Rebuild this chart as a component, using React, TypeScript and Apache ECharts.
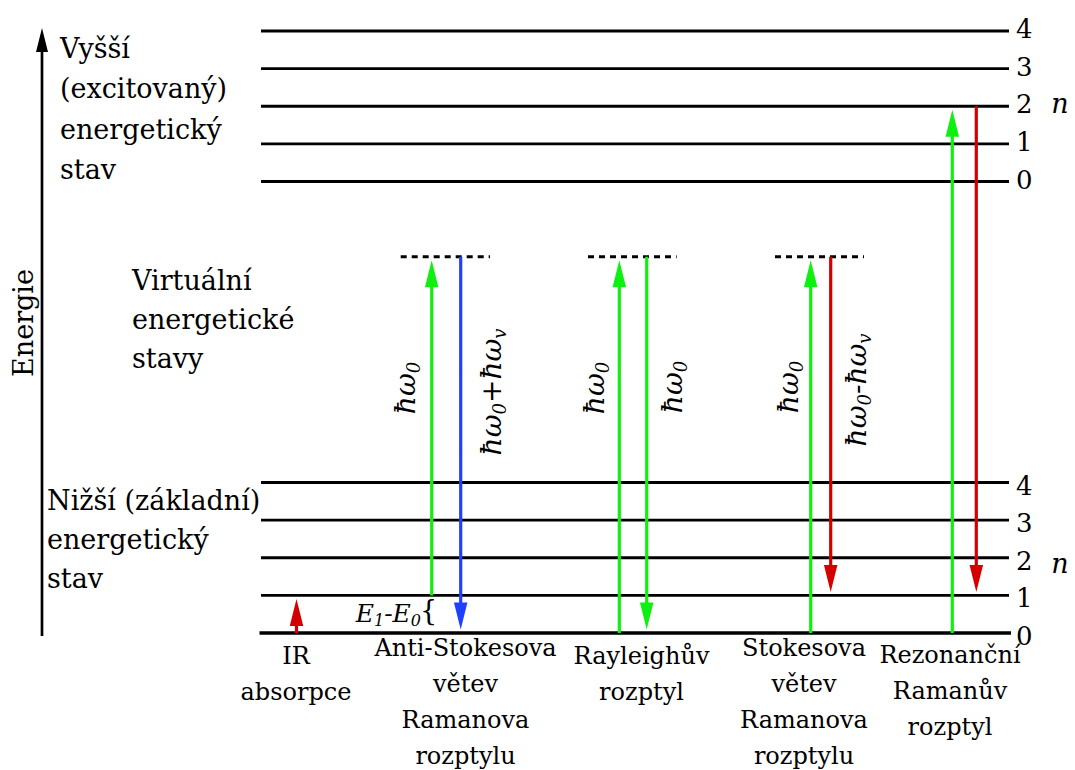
import React, { useEffect, useRef } from "react";
import * as echarts from "echarts";

const WIDTH = 1075;
const HEIGHT = 770;

// Energies are expressed in units of one vibrational level spacing.
const groundState = [0, 1, 2, 3, 4]; // n of the lower (ground) electronic state
const excitedState = [0, 1, 2, 3, 4]; // n of the upper (excited) electronic state
const excitedOffset = 12; // energy of the excited state's n = 0 level
const virtualLevel = 10; // energy of the virtual states
const energyMax = 16;

const processLabels = [
  "IR\nabsorpce",
  "Anti-Stokesova\nvětev\nRamanova\nrozptylu",
  "Rayleighův\nrozptyl",
  "Stokesova\nvětev\nRamanova\nrozptylu",
  "Rezonanční\nRamanův\nrozptyl",
];

// Transitions: start energy, end energy and kind of photon
const transitionFrom = [0, 1, 10, 0, 10, 0, 10, 0, 14];
const transitionTo = [1, 10, 0, 10, 0, 10, 1, 14, 1];
const transitionKind = ["ir", "laser", "antiStokes", "laser", "laser", "laser", "stokes", "laser", "stokes"];

// Processes that go through a virtual level
const virtualProcesses = [1, 2, 3];

// Photon energy labels
const photonLabels = [
  "{h|ħω}{s|0}",
  "{h|ħω}{s|0}{h|+ħω}{s|v}",
  "{h|ħω}{s|0}",
  "{h|ħω}{s|0}",
  "{h|ħω}{s|0}",
  "{h|ħω}{s|0}{h|-ħω}{s|v}",
];

const stateLabels = [
  "Vyšší\n(excitovaný)\nenergetický\nstav",
  "Virtuální\nenergetické\nstavy",
  "Nižší (základní)\nenergetický\nstav",
];

// ---- layout (pixels) ----
const LEVEL_X0 = 261;
const LEVEL_X1 = 1009;
const NUMBER_X = 1016;
const N_X = 1060;
const transitionX = [296.5, 431.7, 460.7, 619.3, 646.7, 810.7, 830.7, 952.3, 976.3];
const virtualSpan = [
  [400.7, 490],
  [588, 676.7],
  [775, 864],
];
const processLabelX = [296, 465.5, 641.5, 804, 950];
const processLabelDy = [23, 15, 23, 15, 22];
const photonLabelPos = [
  [405, 388],
  [491, 392],
  [594, 388],
  [672, 387],
  [788, 387],
  [856, 390],
];
const stateLabelPos = [
  [60, 48, 40.5],
  [132, 280, 39],
  [47, 500, 39],
];

const FONT = '"DejaVu Serif", serif';
const COLORS: Record<string, string> = {
  ir: "#d40000",
  laser: "#10f010",
  antiStokes: "#2040ff",
  stokes: "#d40000",
};

const HEAD_W = 13.5;
const HEAD_L = 27;
const TIP_GAP = 3.5;

function formulaRich(size: number, sub: number, lh: number) {
  return {
    h: { fontFamily: FONT, fontStyle: "italic", fontSize: size, fill: "#000", lineHeight: lh },
    s: { fontFamily: FONT, fontStyle: "italic", fontSize: sub, fill: "#000", verticalAlign: "bottom" },
  };
}

function buildOption(): echarts.EChartsOption {
  const levelData = [
    ...groundState.map((n) => [n, n, 0]),
    ...excitedState.map((n) => [n + excitedOffset, n, 1]),
  ];
  const arrowData = transitionFrom.map((f, i) => [transitionX[i], f, transitionTo[i], i]);
  const virtualData = virtualProcesses.map((p, i) => [virtualSpan[i][0], virtualSpan[i][1], virtualLevel, p]);
  const processData = processLabels.map((_, i) => [processLabelX[i], 0, i]);

  const graphic: any[] = [
    // energy axis
    {
      type: "line",
      shape: { x1: 42, y1: 636, x2: 42, y2: 48 },
      style: { stroke: "#000", lineWidth: 2.7 },
    },
    {
      type: "polygon",
      shape: { points: [[36, 52], [48, 52], [42, 28]] },
      style: { fill: "#000" },
    },
    {
      type: "text",
      x: 23,
      y: 323,
      rotation: Math.PI / 2,
      style: { text: "Energie", font: `27px ${FONT}`, fill: "#000", align: "center", verticalAlign: "middle" },
    },
    ...stateLabels.map((t, i) => ({
      type: "text",
      x: stateLabelPos[i][0],
      y: stateLabelPos[i][1] - stateLabelPos[i][2] / 2,
      style: {
        text: t,
        font: `27px ${FONT}`,
        lineHeight: stateLabelPos[i][2],
        fill: "#000",
        align: "left",
        verticalAlign: "top",
      },
    })),
    ...photonLabels.map((t, i) => ({
      type: "text",
      x: photonLabelPos[i][0],
      y: photonLabelPos[i][1],
      rotation: Math.PI / 2,
      style: { text: t, rich: formulaRich(28, 18, 34), align: "center", verticalAlign: "middle" },
    })),
    {
      type: "text",
      x: 421,
      y: 613,
      style: {
        text: "{h|E}{s|1}{h|-E}{s|0}",
        rich: formulaRich(25, 16, 30),
        align: "right",
        verticalAlign: "middle",
      },
    },
    {
      type: "text",
      x: 420,
      y: 610,
      style: { text: "{", font: `27px ${FONT}`, fill: "#000", align: "left", verticalAlign: "middle" },
    },
  ];

  return {
    animation: false,
    backgroundColor: "#fff",
    grid: { left: 0, right: 0, top: 31, bottom: 137 },
    xAxis: { type: "value", min: 0, max: WIDTH, show: false },
    yAxis: { type: "value", min: 0, max: energyMax, show: false },
    graphic,
    series: [
      {
        type: "custom",
        name: "levels",
        coordinateSystem: "cartesian2d",
        clip: false,
        data: levelData,
        renderItem: (_params: any, api: any) => {
          const e = api.value(0);
          const n = api.value(1);
          const upper = api.value(2) === 1;
          const a = api.coord([LEVEL_X0, e]);
          const b = api.coord([LEVEL_X1, e]);
          const ground = e === 0;
          const dy = upper ? -2 : 3;
          const children: any[] = [
            {
              type: "line",
              shape: { x1: a[0] - (ground ? 1.5 : 0), y1: a[1], x2: b[0] + (ground ? 2 : 0), y2: b[1] },
              style: { stroke: "#000", lineWidth: ground ? 3.6 : 2.8 },
            },
            {
              type: "text",
              x: NUMBER_X,
              y: a[1] + dy,
              style: {
                text: String(n),
                font: `26px ${FONT}`,
                lineHeight: 22,
                fill: "#000",
                align: "left",
                verticalAlign: "middle",
              },
            },
          ];
          if (n === 2) {
            children.push({
              type: "text",
              x: N_X,
              y: a[1] + (upper ? -2.5 : 6),
              style: { text: "n", font: `italic 27px ${FONT}`, fill: "#000", align: "center", verticalAlign: "middle" },
            });
          }
          return { type: "group", children };
        },
      },
      {
        type: "custom",
        name: "virtual",
        coordinateSystem: "cartesian2d",
        clip: false,
        data: virtualData,
        renderItem: (_params: any, api: any) => {
          const a = api.coord([api.value(0), api.value(2)]);
          const b = api.coord([api.value(1), api.value(2)]);
          return {
            type: "line",
            shape: { x1: a[0], y1: a[1], x2: b[0], y2: b[1] },
            style: { stroke: "#000", lineWidth: 3, lineDash: [6, 5] },
          };
        },
      },
      {
        type: "custom",
        name: "transitions",
        coordinateSystem: "cartesian2d",
        clip: false,
        data: arrowData,
        renderItem: (_params: any, api: any) => {
          const x = api.value(0);
          const from = api.coord([x, api.value(1)]);
          const to = api.coord([x, api.value(2)]);
          const color = COLORS[transitionKind[api.value(3)]];
          const dir = to[1] < from[1] ? -1 : 1;
          const tipY = to[1] - dir * TIP_GAP;
          const baseY = tipY - dir * HEAD_L;
          const px = from[0];
          return {
            type: "group",
            children: [
              {
                type: "line",
                shape: { x1: px, y1: from[1], x2: px, y2: baseY + dir * 2 },
                style: { stroke: color, lineWidth: 3.2 },
              },
              {
                type: "polygon",
                shape: { points: [[px - HEAD_W / 2, baseY], [px + HEAD_W / 2, baseY], [px, tipY]] },
                style: { fill: color },
              },
            ],
          };
        },
      },
      {
        type: "custom",
        name: "processes",
        coordinateSystem: "cartesian2d",
        clip: false,
        data: processData,
        renderItem: (_params: any, api: any) => {
          const i = api.value(2);
          const p = api.coord([api.value(0), api.value(1)]);
          const lh = 36;
          return {
            type: "text",
            x: p[0],
            y: p[1] + processLabelDy[i] - lh / 2,
            style: {
              text: processLabels[i],
              font: `24px ${FONT}`,
              lineHeight: lh,
              fill: "#000",
              align: "center",
              verticalAlign: "top",
            },
          };
        },
      },
    ],
  } as any;
}

export default function App() {
  const ref = useRef<HTMLDivElement>(null);
  useEffect(() => {
    if (!ref.current) return;
    const chart = echarts.init(ref.current, null, { renderer: "svg" });
    chart.setOption(buildOption());
    return () => chart.dispose();
  }, []);
  return (
    <div
      ref={ref}
      style={{ position: "fixed", left: 0, top: 0, width: WIDTH, height: HEIGHT, background: "#fff" }}
    />
  );
}
